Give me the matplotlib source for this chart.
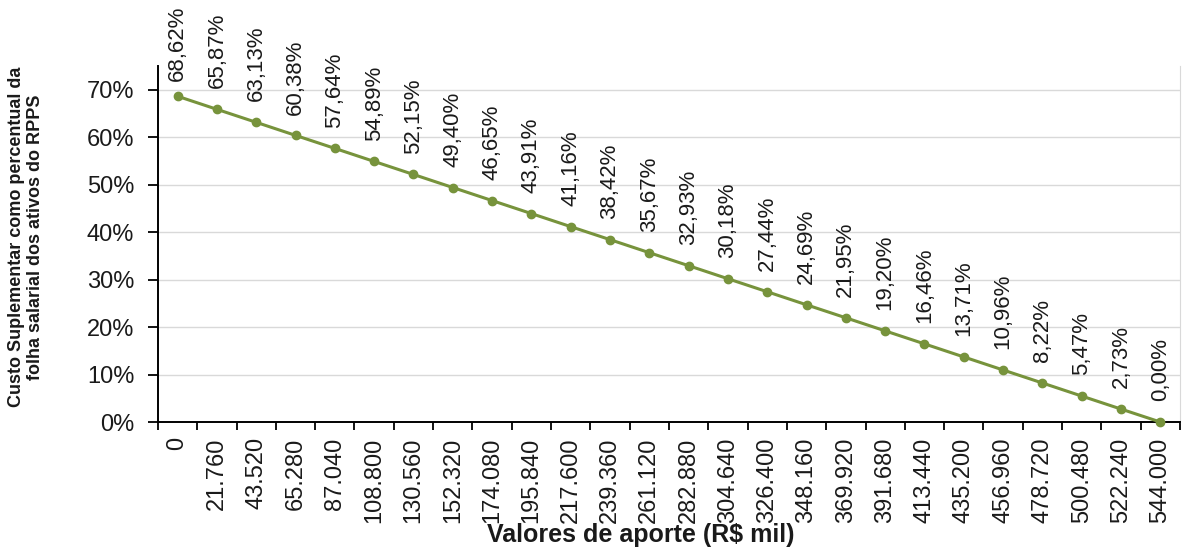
import numpy as np
import matplotlib.pyplot as plt
from matplotlib.ticker import FixedLocator

plt.rcParams['font.family'] = ['Liberation Sans', 'DejaVu Sans']

# categories (R$ mil) and supplementary cost values
aportes = ['0', '21.760', '43.520', '65.280', '87.040', '108.800', '130.560',
           '152.320', '174.080', '195.840', '217.600', '239.360', '261.120',
           '282.880', '304.640', '326.400', '348.160', '369.920', '391.680',
           '413.440', '435.200', '456.960', '478.720', '500.480', '522.240',
           '544.000']
custo = [68.62, 65.87, 63.13, 60.38, 57.64, 54.89, 52.15, 49.40, 46.65,
         43.91, 41.16, 38.42, 35.67, 32.93, 30.18, 27.44, 24.69, 21.95,
         19.20, 16.46, 13.71, 10.96, 8.22, 5.47, 2.73, 0.00]

cor = '#77933C'
txt = '#1a1a1a'

fig = plt.figure(figsize=(11.84, 5.48), dpi=100)
ax = fig.add_axes([0.1334, 0.2299, 0.8632, 0.6497])

x = np.arange(len(aportes))
y = np.array(custo) / 100
ax.plot(x, y, color=cor, linewidth=2.2, marker='o', markersize=6,
        markerfacecolor=cor, markeredgecolor=cor, zorder=3, clip_on=False)

ax.set_xlim(-0.5, len(aportes) - 0.5)
ax.set_ylim(0, 0.75)

# data labels, rotated, above each point
labels = []
for xi, yi, v in zip(x, y, custo):
    lbl = ('%.2f%%' % v).replace('.', ',')
    t = ax.annotate(lbl, (xi, yi), xytext=(0, 15), textcoords='offset points',
                    rotation=90, ha='center', va='bottom', fontsize=16,
                    color=txt, annotation_clip=False)
    labels.append(t)

# keep labels inside the figure (pull down the ones that would stick out)
fig.canvas.draw()
r = fig.canvas.get_renderer()
H = fig.bbox.height
for t in labels:
    bb = t.get_window_extent(r)
    over = bb.y1 - (H - 6)
    if over > 0:
        off = t.xyann[1] - over * 72 / fig.dpi
        t.xyann = (0, off)

ax.set_yticks(np.arange(0, 0.71, 0.1))
ax.set_yticklabels(['%d%%' % round(t * 100) for t in np.arange(0, 0.71, 0.1)],
                   fontsize=17, color=txt)
ax.yaxis.grid(True, color='#D9D9D9', linewidth=1)
ax.set_axisbelow(True)

# category labels centered, tick marks between categories
ax.set_xticks(x)
ax.set_xticklabels(aportes, rotation=90, fontsize=17, color=txt)
ax.tick_params(axis='x', which='major', length=0, pad=11)
ax.xaxis.set_minor_locator(FixedLocator(np.arange(-0.5, len(aportes), 1)))
ax.tick_params(axis='x', which='minor', length=6, width=1.3, color='black')
ax.tick_params(axis='y', length=7, width=1.3, color='black', pad=10)

ax.spines['top'].set_visible(False)
ax.spines['right'].set_color('#D9D9D9')
ax.spines['left'].set_linewidth(1.4)
ax.spines['bottom'].set_linewidth(1.4)

fig.text(0.022, 0.567, 'Custo Suplementar como percentual da\nfolha salarial dos ativos do RPPS',
         rotation=90, ha='center', va='center', fontsize=13, fontweight='bold',
         multialignment='center', color=txt)
fig.text(0.541, 0.024, 'Valores de aporte (R$ mil)', ha='center', va='center',
         fontsize=18, fontweight='bold', color=txt)

fig.savefig('out.png', dpi=100)
